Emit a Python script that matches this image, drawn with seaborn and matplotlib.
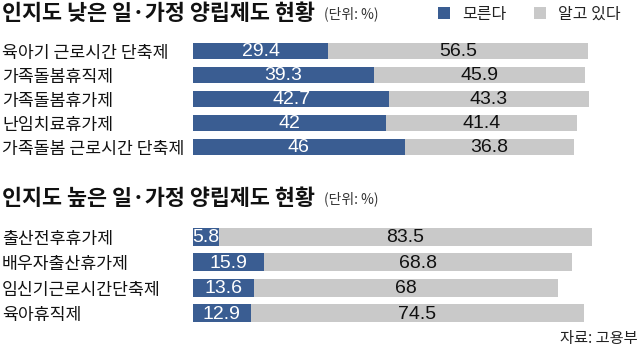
import matplotlib
matplotlib.use("Agg")
import matplotlib.pyplot as plt
from matplotlib.patches import Rectangle
import pandas as pd
import seaborn as sns

# --- data -------------------------------------------------------------
low_items = ["육아기 근로시간 단축제", "가족돌봄휴직제", "가족돌봄휴가제",
             "난임치료휴가제", "가족돌봄 근로시간 단축제"]
low_unaware = [29.4, 39.3, 42.7, 42, 46]
low_aware = [56.5, 45.9, 43.3, 41.4, 36.8]

high_items = ["출산전후휴가제", "배우자출산휴가제", "임신기근로시간단축제", "육아휴직제"]
high_unaware = [5.8, 15.9, 13.6, 12.9]
high_aware = [83.5, 68.8, 68, 74.5]

low_title = "인지도 낮은 일·가정 양립제도 현황"
high_title = "인지도 높은 일·가정 양립제도 현황"
unit_text = "(단위: %)"
legend_labels = ["모른다", "알고 있다"]
source_text = "자료: 고용부"

# --- style ------------------------------------------------------------
BLUE = "#3a5d92"
GRAY = "#c9c9c9"
KR = ["Noto Sans CJK KR", "DejaVu Sans"]
NUM = ["Liberation Sans", "DejaVu Sans"]

sns.set_style("white")
plt.rcParams["font.family"] = KR

W, H = 640, 347
fig = plt.figure(figsize=(W / 100, H / 100), dpi=100)


def fx(px):
    return px / W


def fy(py):
    return 1 - py / H


def draw_panel(items, unaware, aware, top_px, row_px, bar_frac, px_per_unit):
    n = len(items)
    left_px = 193
    width_px = W - left_px
    ax = fig.add_axes([fx(left_px), fy(top_px + n * row_px),
                       width_px / W, n * row_px / H])
    df = pd.DataFrame({"item": items, "unaware": unaware, "aware": aware})
    df["total"] = df["unaware"] + df["aware"]
    sns.barplot(data=df, y="item", x="total", color=GRAY, saturation=1,
                width=bar_frac, linewidth=0, orient="h", ax=ax)
    sns.barplot(data=df, y="item", x="unaware", color=BLUE, saturation=1,
                width=bar_frac, linewidth=0, orient="h", ax=ax)
    ax.set_xlim(0, width_px / px_per_unit)
    ax.set_ylim(n - 0.5, -0.5)
    ax.set_xticks([])
    ax.set_xlabel("")
    ax.set_ylabel("")
    for s in ax.spines.values():
        s.set_visible(False)
    ax.tick_params(axis="y", length=0, pad=(left_px - 2) * 0.72)
    for lab in ax.get_yticklabels():
        lab.set_ha("left")
        lab.set_fontsize(12.4)
        lab.set_color("#111111")
    for i, (u, a) in enumerate(zip(df["unaware"], df["aware"])):
        ax.text(u / 2, i + 0.03, f"{u:g}", ha="center", va="center",
                color="white", fontsize=14, family=NUM)
        ax.text(u + a / 2, i + 0.03, f"{a:g}", ha="center", va="center",
                color="#111111", fontsize=14, family=NUM)
    return ax


draw_panel(low_items, low_unaware, low_aware, top_px=39, row_px=24,
           bar_frac=0.69, px_per_unit=4.6)
draw_panel(high_items, high_unaware, high_aware, top_px=224, row_px=25.5,
           bar_frac=0.72, px_per_unit=4.47)

# titles and unit notes
fig.text(fx(2), fy(14), low_title, fontsize=15.7, fontweight="bold",
         ha="left", va="center", color="#111111")
fig.text(fx(324), fy(14), unit_text, fontsize=10, ha="left", va="center",
         color="#333333")
fig.text(fx(2), fy(199), high_title, fontsize=15.7, fontweight="bold",
         ha="left", va="center", color="#111111")
fig.text(fx(324), fy(199), unit_text, fontsize=10, ha="left", va="center",
         color="#333333")

# legend
for x0, col, lab in [(438, BLUE, legend_labels[0]), (534, GRAY, legend_labels[1])]:
    fig.add_artist(Rectangle((fx(x0), fy(19)), 12 / W, 12 / H,
                             transform=fig.transFigure, color=col, lw=0))
    fig.text(fx(x0 + 24), fy(14), lab, fontsize=11.5, ha="left",
             va="center", color="#222222")

# source
fig.text(fx(638), fy(338), source_text, fontsize=11, ha="right",
         va="center", color="#222222")

fig.savefig("out.png", dpi=100)
